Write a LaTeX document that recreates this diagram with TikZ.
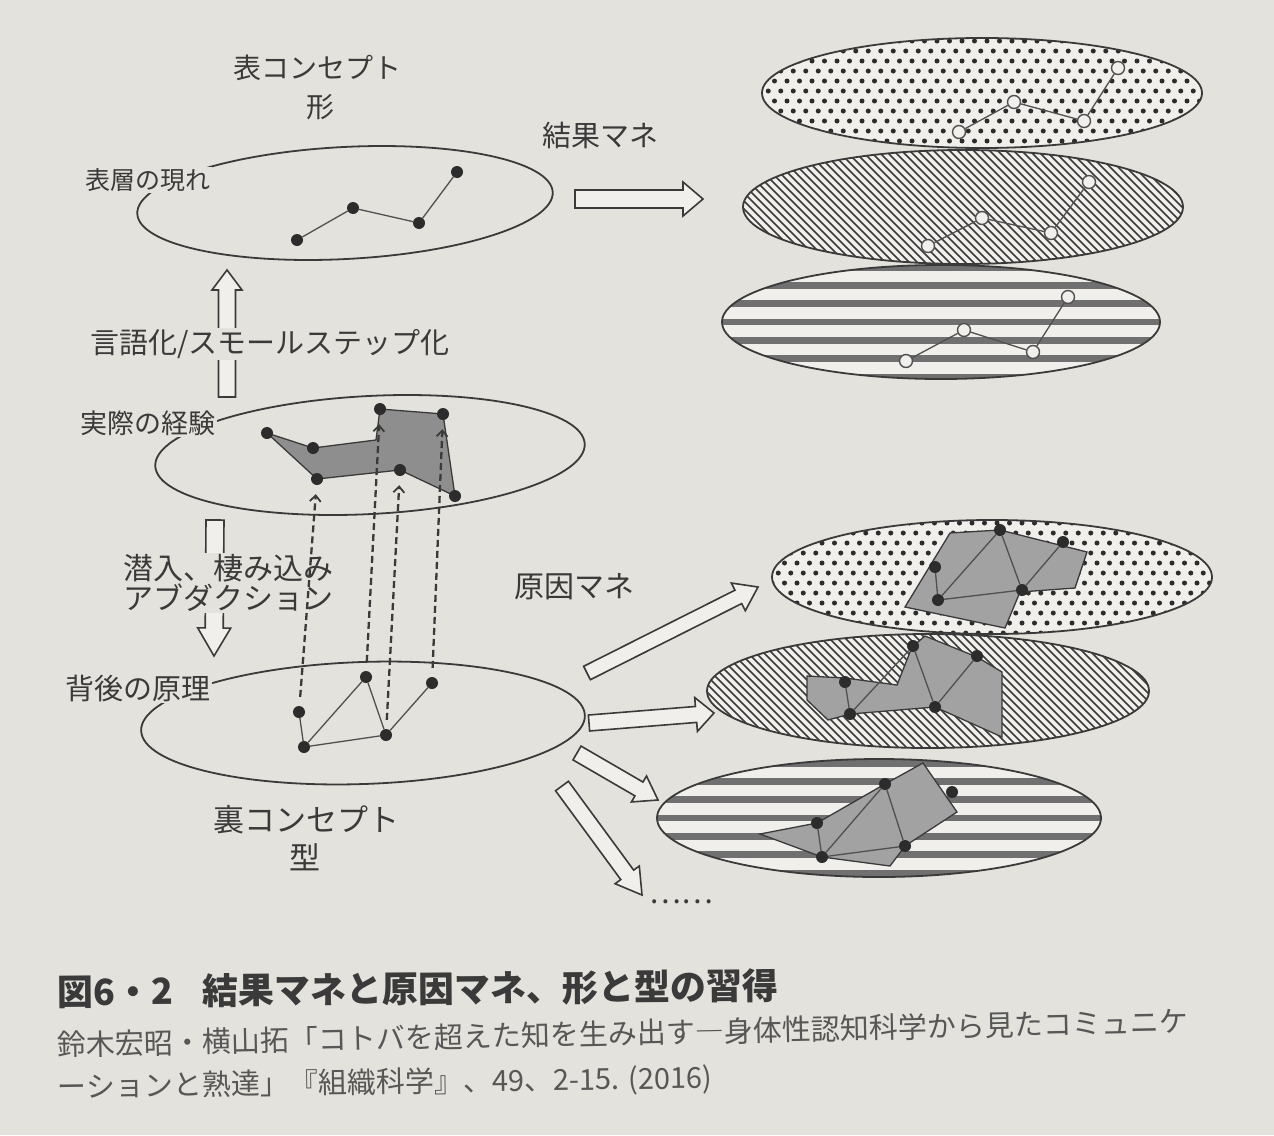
\documentclass[tikz,border=0pt]{standalone}
\usepackage{fontspec}
\newfontfamily\jpfont{Noto Sans CJK JP}
\usetikzlibrary{calc,arrows.meta}
\definecolor{bg}{HTML}{E4E2DC}
\definecolor{ink}{HTML}{3A3A3A}
\definecolor{lineg}{HTML}{505050}
\definecolor{paper}{HTML}{F0EFEB}
\definecolor{polyA}{HTML}{8E8E8E}
\definecolor{polyB}{HTML}{A2A2A2}
\definecolor{dotc}{HTML}{2C2C2C}
\definecolor{stripec}{HTML}{707070}
\newcommand\harrow[5]{%
  \draw[hollow] ($(#1)!#3!90:(#2)$) -- ($(#2)!#5!(#1)!#3!-90:(#1)$) -- ($(#2)!#5!(#1)!#4!-90:(#1)$) -- (#2)
   -- ($(#2)!#5!(#1)!#4!90:(#1)$) -- ($(#2)!#5!(#1)!#3!90:(#1)$) -- ($(#1)!#3!-90:(#2)$) -- cycle;}
% dotted ellipse: cx, cy, rx, ry
\newcommand\dotell[4]{%
  \begin{scope}
    \clip (#1,#2) ellipse [x radius=#3, y radius=#4];
    \fill[paper] (#1-#3,#2-#4) rectangle (#1+#3,#2+#4);
    \foreach \r in {0,...,12}{\foreach \c in {0,...,37}{%
      \fill[dotc] ({#1-#3+\c*12.5+mod(\r,2)*6.25},{#2-#4+3+\r*10}) circle[radius=2.5];}}
  \end{scope}
  \draw[ell] (#1,#2) ellipse [x radius=#3, y radius=#4];}
% diagonal hatched ellipse
\newcommand\diagell[4]{%
  \begin{scope}
    \clip (#1,#2) ellipse [x radius=#3, y radius=#4];
    \fill[paper] (#1-#3,#2-#4) rectangle (#1+#3,#2+#4);
    \foreach \k in {0,...,72}{%
      \draw[ink, line width=1.7pt] ({#1-#3-2*#4+\k*8},{#2-#4}) -- ++(2*#4,2*#4);}
  \end{scope}
  \draw[ell] (#1,#2) ellipse [x radius=#3, y radius=#4];}
% horizontally striped ellipse
\newcommand\stripell[4]{%
  \begin{scope}
    \clip (#1,#2) ellipse [x radius=#3, y radius=#4];
    \fill[paper] (#1-#3,#2-#4) rectangle (#1+#3,#2+#4);
    \foreach \k in {-4,...,4}{%
      \fill[stripec] (#1-#3,{#2+\k*18.3-3.4}) rectangle (#1+#3,{#2+\k*18.3+3.4});}
  \end{scope}
  \draw[ell] (#1,#2) ellipse [x radius=#3, y radius=#4];}
\tikzset{
  lbl/.style={font=\jpfont\fontsize{#1}{#1}\selectfont, text=ink, inner sep=1.5pt},
  lblbg/.style={lbl=#1, fill=bg},
  ell/.style={draw=ink, line width=1.8pt},
  hollow/.style={draw=ink, line width=1.6pt, fill=paper, line join=miter},
  dot/.style={circle, fill=dotc, draw=none, minimum size=12pt, inner sep=0pt},
  ring/.style={circle, draw=lineg, line width=1.4pt, fill=paper, minimum size=13pt, inner sep=0pt},
  link/.style={draw=lineg, line width=1.3pt},
  dasharrow/.style={draw=ink, line width=2.3pt, dash pattern=on 7pt off 4pt, -{Straight Barb[length=6pt,width=11pt,line width=1.8pt]}, shorten <=9pt, shorten >=9pt},
  poly/.style={draw=ink, line width=1.3pt, fill=#1},
}
\begin{document}
\begin{tikzpicture}[x=1pt, y=-1pt]
\useasboundingbox (0,0) rectangle (1274,1135);
\fill[bg] (0,0) rectangle (1274,1135);

% ---------- left column ----------
\node[lbl=28] (omote) at (317,68) {表コンセプト};
\node[lbl=28] (katachi) at (320,107) {形};

\draw[ell] (345,203) ellipse [x radius=208, y radius=56, rotate=3];
\node[lblbg=25] (hyoso) at (148,180) {表層の現れ};
\node[dot] (s1) at (297,240) {};
\node[dot] (s2) at (353,208) {};
\node[dot] (s3) at (419,223) {};
\node[dot] (s4) at (457,172) {};
\draw[link] (s1) -- (s2) -- (s3) -- (s4);

% up arrow
\coordinate (up0) at (227,397);
\coordinate (up1) at (227,270);
\harrow{up0}{up1}{8.5pt}{15pt}{20pt}
\node[lblbg=29] (gengo) at (270,344) {言語化/スモールステップ化};

% experience ellipse
\draw[ell] (370,455) ellipse [x radius=215, y radius=59, rotate=3];
\node[lblbg=27] (jissai) at (148,423) {実際の経験};
\coordinate (p1) at (267,433);
\coordinate (p2) at (313,448);
\coordinate (p3) at (376,440);
\coordinate (p4) at (380,409);
\coordinate (p5) at (443,414);
\coordinate (p6) at (455,496);
\coordinate (p7) at (400,470);
\coordinate (p8) at (317,479);
\draw[poly=polyA] (p1) -- (p2) -- (p3) -- (p4) -- (p5) -- (p6) -- (p7) -- (p8) -- cycle;
\foreach \p in {p1,p2,p4,p5,p6,p7,p8} \node[dot] (d\p) at (\p) {};

% down arrow
\coordinate (dn0) at (215,520);
\coordinate (dn1) at (214,656);
\harrow{dn0}{dn1}{9pt}{16.5pt}{28pt}
\node[lblbg=30, anchor=west] (sennyu) at (122,568) {潜入、棲み込み};
\node[lblbg=30, anchor=west] (abd) at (122,598) {アブダクション};

% principle ellipse
\draw[ell] (363,723) ellipse [x radius=222, y radius=61, rotate=2];
\node[lblbg=29] (haigo) at (138,688) {背後の原理};
\node[dot] (l1) at (299,712) {};
\node[dot] (l2) at (366,677) {};
\node[dot] (l3) at (432,683) {};
\node[dot] (l4) at (386,735) {};
\node[dot] (l5) at (304,747) {};
\draw[link] (l1) -- (l5) -- (l2) -- (l4) -- (l3);
\draw[link] (l5) -- (l4);
\draw[dasharrow] (l1) -- (dp8);
\draw[dasharrow] (l2) -- (dp4);
\draw[dasharrow] (l4) -- (dp7);
\draw[dasharrow] (l3) -- (dp5);

\node[lbl=31] (ura) at (306,820) {裏コンセプト};
\node[lbl=31] (kata) at (305,857) {型};

% ---------- result imitation ----------
\node[lbl=29] (kekka) at (600,136) {結果マネ};
\coordinate (ra0) at (575,199);
\coordinate (ra1) at (703,199);
\harrow{ra0}{ra1}{9pt}{17pt}{20pt}

\dotell{982}{93}{220}{55}
\diagell{963}{207}{220}{57}
\stripell{941}{322}{219}{57}

\node[ring] (c11) at (959,132) {};
\node[ring] (c12) at (1014,102) {};
\node[ring] (c13) at (1084,121) {};
\node[ring] (c14) at (1118,68) {};
\node[ring] (c21) at (928,246) {};
\node[ring] (c22) at (982,218) {};
\node[ring] (c23) at (1051,233) {};
\node[ring] (c24) at (1089,182) {};
\node[ring] (c31) at (906,361) {};
\node[ring] (c32) at (964,330) {};
\node[ring] (c33) at (1033,352) {};
\node[ring] (c34) at (1068,297) {};
\draw[link] (c11) -- (c12) -- (c13) -- (c14);
\draw[link] (c21) -- (c22) -- (c23) -- (c24);
\draw[link] (c31) -- (c32) -- (c33) -- (c34);

% ---------- cause imitation ----------
\node[lbl=30] (genin) at (574,587) {原因マネ};
\coordinate (a1s) at (587,673);
\coordinate (a1e) at (758,587);
\coordinate (a2s) at (589,723);
\coordinate (a2e) at (714,713);
\coordinate (a3s) at (577,753);
\coordinate (a3e) at (658,800);
\coordinate (a4s) at (562,786);
\coordinate (a4e) at (642,895);
\harrow{a1s}{a1e}{7.5pt}{15.5pt}{22pt}
\harrow{a2s}{a2e}{8pt}{17pt}{18pt}
\harrow{a3s}{a3e}{8pt}{15pt}{22pt}
\harrow{a4s}{a4e}{8pt}{15pt}{25pt}

% E4 dots
\dotell{992}{577}{220}{57}
\draw[poly=polyB] (950,533) -- (1000,530) -- (1087,552) -- (1075,588) -- (1020,592) -- (1005,628) -- (905,607) -- cycle;
\node[dot] (g41) at (935,567) {};
\node[dot] (g42) at (1000,530) {};
\node[dot] (g43) at (1063,542) {};
\node[dot] (g44) at (938,600) {};
\node[dot] (g45) at (1022,590) {};
\draw[link] (g44) -- (g42) -- (g45) -- (g44);
\draw[link] (g45) -- (g43);
\draw[link] (g41) -- (g44);

% E5 diagonal
\diagell{928}{691}{221}{57}
\draw[poly=polyB] (807,676) -- (845,678) -- (897,685) -- (912,647) -- (925,636) -- (977,657) -- (1002,672) -- (1002,737) -- (935,707) -- (850,714) -- (828,720) -- (807,700) -- cycle;
\node[dot] (g51) at (845,682) {};
\node[dot] (g52) at (913,646) {};
\node[dot] (g53) at (977,656) {};
\node[dot] (g54) at (850,714) {};
\node[dot] (g55) at (935,707) {};
\draw[link] (g54) -- (g52) -- (g55) -- (g53);
\draw[link] (g51) -- (g54);

% E6 horizontal
\stripell{879}{818}{222}{59}
\draw[poly=polyB] (760,834) -- (817,823) -- (885,784) -- (923,763) -- (957,812) -- (905,846) -- (890,866) -- (822,857) -- cycle;
\node[dot] (g61) at (817,823) {};
\node[dot] (g62) at (885,784) {};
\node[dot] (g63) at (952,792) {};
\node[dot] (g64) at (822,857) {};
\node[dot] (g65) at (905,846) {};
\draw[link] (g64) -- (g62) -- (g65) -- (g64);
\draw[link] (g61) -- (g64);

\node[lbl=30] (etc) at (681,902) {……};

% ---------- caption ----------
\node[lbl=36, anchor=west, font=\jpfont\bfseries\fontsize{36}{36}\selectfont, rotate=0.5] (cap) at (56,992) {図6・2\hspace{0.8em}結果マネと原因マネ、形と型の習得};
\node[lbl=29, anchor=west, text=ink!85, rotate=1.2] (cite1) at (56,1045) {鈴木宏昭・横山拓「コトバを超えた知を生み出す―身体性認知科学から見たコミュニケ};
\node[lbl=29, anchor=west, text=ink!85, rotate=0.8] (cite2) at (56,1088) {ーションと熟達」『組織科学』、49、2-15. (2016)};
\end{tikzpicture}
\end{document}
